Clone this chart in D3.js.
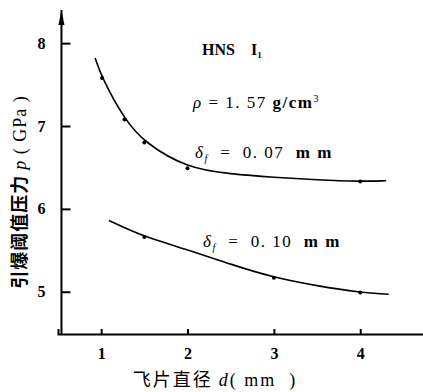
<!DOCTYPE html>
<html>
<head>
<meta charset="utf-8">
<script src="https://cdn.jsdelivr.net/npm/d3@7"></script>
<style>
  body { margin: 0; background: #fff; }
  svg { display: block; }
  text { white-space: pre; }
</style>
</head>
<body>
<svg id="chart" width="423" height="392"></svg>
<script>
// flyer diameter d (mm) vs initiation threshold pressure p (GPa)
const xTicks = [1, 2, 3, 4];
const yTicks = [5, 6, 7, 8];

// delta_f = 0.07 mm
const thinD = [0.93, 1.01, 1.27, 1.5, 2.0, 2.5, 3.0, 3.5, 4.0, 4.3];
const thinP = [7.82, 7.58, 7.08, 6.80, 6.49, 6.42, 6.38, 6.35, 6.33, 6.34];
const thinMarks = [[1.01, 7.58], [1.27, 7.08], [1.5, 6.80], [2.0, 6.49], [4.0, 6.33]];

// delta_f = 0.10 mm
const thickD = [1.09, 1.5, 2.0, 2.5, 3.0, 3.5, 4.0, 4.33];
const thickP = [5.86, 5.66, 5.51, 5.33, 5.17, 5.07, 4.99, 4.97];
const thickMarks = [[1.5, 5.66], [3.0, 5.17], [4.0, 4.99]];

const svg = d3.select("#chart");

const x = d3.scaleLinear().domain([0.5, 4.75]).range([58, 425]);
const y = d3.scaleLinear().domain([4.49, 8.4]).range([334, 10]);

const serif = "'Liberation Serif', 'DejaVu Serif', serif";

// axes
const xAxis = svg.append("g")
    .attr("transform", "translate(0," + y(4.49) + ")")
    .call(d3.axisBottom(x).tickValues(xTicks).tickSize(-5).tickPadding(14).tickFormat(d3.format("d")));
const yAxis = svg.append("g")
    .attr("transform", "translate(" + x(0.54) + ",0)")
    .call(d3.axisLeft(y).tickValues(yTicks).tickSize(-9).tickPadding(16).tickFormat(d3.format("d")));

[xAxis, yAxis].forEach(function (g) {
    g.select(".domain").attr("stroke", "#000").attr("stroke-width", 2);
    g.selectAll(".tick line").attr("stroke", "#000").attr("stroke-width", 2);
    g.selectAll(".tick text")
        .attr("fill", "#000")
        .style("font-family", serif)
        .style("font-weight", "bold")
        .style("font-size", "16px");
});
yAxis.select(".domain").attr("d", "M0," + y(4.49) + "V" + y(8.4));

// arrow on y axis
svg.append("path")
    .attr("d", "M" + x(0.54) + ",10 l-3,15 l6,0 z")
    .attr("fill", "#000");

// curves
const line = d3.line()
    .x(function (d) { return x(d[0]); })
    .y(function (d) { return y(d[1]); })
    .curve(d3.curveBasis);

[[thinD, thinP], [thickD, thickP]].forEach(function (s) {
    svg.append("path")
        .datum(s[0].map(function (d, i) { return [d, s[1][i]]; }))
        .attr("d", line)
        .attr("fill", "none")
        .attr("stroke", "#000")
        .attr("stroke-width", 1.6);
});

svg.selectAll("circle.mark")
    .data(thinMarks.concat(thickMarks))
    .enter()
    .append("circle")
    .attr("class", "mark")
    .attr("cx", function (d) { return x(d[0]); })
    .attr("cy", function (d) { return y(d[1]); })
    .attr("r", 2)
    .attr("fill", "#000");

// annotations
const hns = svg.append("text")
    .attr("x", 202).attr("y", 55)
    .style("font-family", serif).style("font-weight", "bold").style("font-size", "16px")
    .text("HNS    I");
hns.append("tspan").attr("dy", 3).style("font-size", "9px").text("1");

const rho = svg.append("text")
    .attr("x", 193).attr("y", 108)
    .style("font-family", serif).style("font-size", "17px")
    .style("letter-spacing", "1.5px");
rho.append("tspan").style("font-style", "italic").text("ρ");
rho.append("tspan").text(" = 1. 57 ");
rho.append("tspan").style("font-weight", "bold").text("g/cm");
rho.append("tspan").attr("dy", -6).style("font-size", "10px").text("3");

function deltaLabel(xp, yp, val) {
    const t = svg.append("text")
        .attr("x", xp).attr("y", yp)
        .style("font-family", serif).style("font-size", "17px")
        .style("letter-spacing", "1.5px");
    t.append("tspan").style("font-style", "italic").text("δ");
    t.append("tspan").attr("dy", 4).style("font-size", "10px").style("font-style", "italic").text("f");
    t.append("tspan").attr("dy", -4).text("  =  " + val + "  ");
    t.append("tspan").style("font-weight", "bold").text("m m");
}
deltaLabel(195, 158, "0. 07");
deltaLabel(203, 247, "0. 10");

// axis titles
const ylab = svg.append("text")
    .attr("transform", "translate(26,192) rotate(-90)")
    .attr("text-anchor", "middle")
    .style("font-family", "'Noto Sans CJK SC', sans-serif")
    .style("font-weight", "bold")
    .style("font-size", "18px")
    .style("letter-spacing", "1px");
ylab.append("tspan").text("引爆阈值压力 ");
ylab.append("tspan").style("font-family", serif).style("font-style", "italic").style("font-weight", "normal").text("p");
ylab.append("tspan").style("font-family", serif).style("font-weight", "normal").text(" ( GPa )");

const xlab = svg.append("text")
    .attr("x", 215).attr("y", 386)
    .attr("text-anchor", "middle")
    .style("font-family", "'Noto Sans CJK SC', sans-serif")
    .style("font-size", "18px")
    .style("letter-spacing", "2px");
xlab.append("tspan").text("飞片直径 ");
xlab.append("tspan").style("font-family", serif).style("font-style", "italic").text("d");
xlab.append("tspan").style("font-family", serif).text("( mm  )");
</script>
</body>
</html>
